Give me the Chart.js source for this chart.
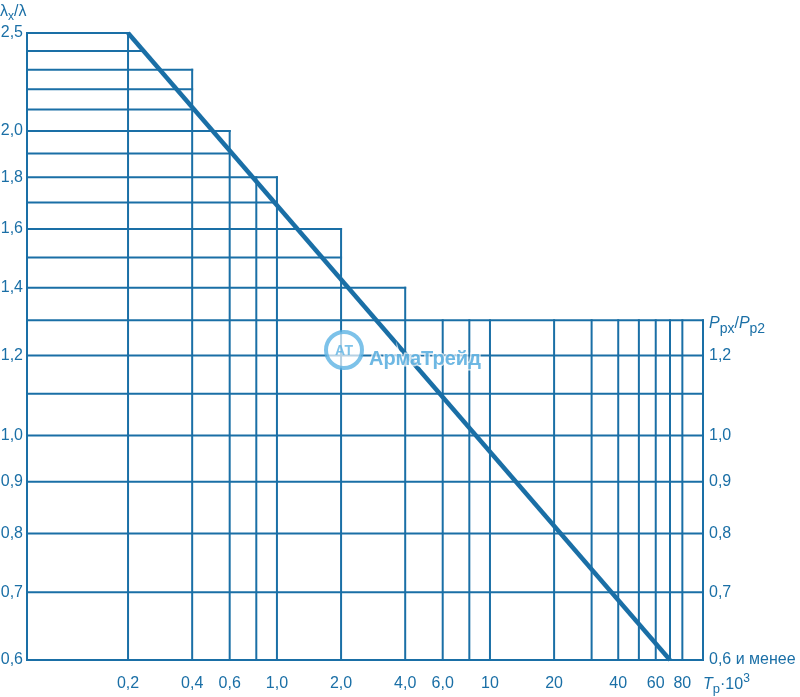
<!DOCTYPE html>
<html>
<head>
<meta charset="utf-8">
<script src="https://cdn.jsdelivr.net/npm/chart.js@4"></script>
<style>
html,body{margin:0;padding:0;background:#fff;}
#wrap{width:800px;height:697px;}
</style>
</head>
<body>
<div id="wrap"><canvas id="c" width="800" height="697"></canvas></div>
<script>
// ---- data ----
const xTickValues = [0.2, 0.4, 0.6, 1, 2, 4, 6, 10, 20, 40, 60, 80];
const yLeftTicks = [2.5, 2.0, 1.8, 1.6, 1.4, 1.2, 1.0, 0.9, 0.8, 0.7, 0.6];
const yRightTicks = [1.2, 1.0, 0.9, 0.8, 0.7, 0.6];
// horizontal grid levels (λx/λ) and the T value where each stops (null = stops at the diagonal)
const hLevels = [2.5, 2.4, 2.3, 2.2, 2.1, 2.0, 1.9, 1.8, 1.7, 1.6, 1.5, 1.4, 1.3, 1.2, 1.1, 1.0, 0.9, 0.8, 0.7];
const hEnds   = [0.2, null, 0.4, 0.4, 0.4, 0.6, 0.6, 1, 1, 2, 2, 4, 100, 100, 100, 100, 100, 100, 100];
// vertical grid levels (T·10^3) and the λ value where each starts at the top
const vLevels = [0.2, 0.4, 0.6, 0.8, 1, 2, 4, 6, 8, 10, 20, 30, 40, 50, 60, 70, 80, 100];
const vTops   = [2.5, 2.3, 2.0, 1.8, 1.8, 1.6, 1.4, 1.3, 1.3, 1.3, 1.3, 1.3, 1.3, 1.3, 1.3, 1.3, 1.3, 1.3];
// the characteristic line
const diagT = [0.2, 70];
const diagL = [2.5, 0.6];

const X_MIN = 0.0671, X_MAX = 100, Y_MIN = 0.6, Y_MAX = 2.5;
const BLUE = '#1a6fa6';
const FONT = '"Liberation Sans", Arial, sans-serif';

function diagAt(l) { // T on the diagonal for a given λ level (log-log straight line)
  const k = Math.log(diagL[1] / diagL[0]) / Math.log(diagT[1] / diagT[0]);
  return diagT[0] * Math.pow(l / diagL[0], 1 / k);
}
function comma(v, d) { return v.toFixed(d).replace('.', ','); }

const datasets = [];
hLevels.forEach((l, i) => {
  const end = hEnds[i] === null ? diagAt(l) : hEnds[i];
  datasets.push({ data: [{x: X_MIN, y: l}, {x: end, y: l}], borderWidth: 2, borderCapStyle: 'square' });
});
vLevels.forEach((t, i) => {
  datasets.push({ data: [{x: t, y: Y_MIN}, {x: t, y: vTops[i]}], borderWidth: 2, borderCapStyle: 'square' });
});
datasets.push({ data: diagT.map((t, i) => ({x: t, y: diagL[i]})), borderWidth: 4.5, borderCapStyle: 'butt' });
datasets.forEach(d => { d.borderColor = BLUE; d.pointRadius = 0; d.fill = false; d.clip = false; });

function drawSubText(ctx, x, y, parts) {
  // parts: [text, size, dy, italic]
  parts.forEach(p => {
    ctx.font = (p[3] ? 'italic ' : '') + p[1] + 'px ' + FONT;
    ctx.fillText(p[0], x, y + p[2]);
    x += ctx.measureText(p[0]).width;
  });
}

const extras = {
  id: 'extras',
  afterDraw(chart) {
    const ctx = chart.ctx;
    ctx.save();
    ctx.fillStyle = BLUE;
    ctx.textBaseline = 'alphabetic';
    ctx.textAlign = 'left';
    // left axis title λx/λ
    drawSubText(ctx, 0, 16, [['λ', 16, 0, false], ['x', 12, 4, false], ['/λ', 16, 0, false]]);
    // right axis title Ppx/Pp2
    drawSubText(ctx, 709, 328, [['P', 16, 0, true], ['px', 14, 5, false], ['/', 16, 0, false], ['P', 16, 0, true], ['p2', 14, 5, false]]);
    // x axis title Tp·10^3
    drawSubText(ctx, 703, 689, [['T', 16, 0, true], ['p', 13, 4, false], ['·10', 16, 0, false], ['3', 12, -7, false]]);

    // watermark АрмаТрейд
    ctx.globalAlpha = 0.8;
    ctx.beginPath();
    ctx.arc(344, 350, 18, 0, Math.PI * 2);
    ctx.fillStyle = 'rgba(255,255,255,0.85)';
    ctx.fill();
    ctx.lineWidth = 4;
    ctx.strokeStyle = '#5db3e4';
    ctx.stroke();
    ctx.fillStyle = '#5db3e4';
    ctx.font = 'bold 14px ' + FONT;
    ctx.textAlign = 'center';
    ctx.fillText('АТ', 344, 355);
    ctx.textAlign = 'left';
    ctx.font = 'bold 20px ' + FONT;
    ctx.lineWidth = 3;
    ctx.strokeStyle = 'rgba(255,255,255,0.9)';
    ctx.strokeText('АрмаТрейд', 369, 365);
    ctx.fillStyle = '#4aa6dc';
    ctx.fillText('АрмаТрейд', 369, 365);
    ctx.restore();
  }
};

new Chart(document.getElementById('c'), {
  type: 'line',
  data: { datasets },
  plugins: [extras],
  options: {
    responsive: false,
    animation: false,
    devicePixelRatio: 1,
    layout: { padding: { top: 33, left: 0, right: 0, bottom: 0 } },
    plugins: { legend: { display: false }, tooltip: { enabled: false } },
    scales: {
      x: {
        type: 'logarithmic', min: X_MIN, max: X_MAX,
        grid: { display: false, drawTicks: false },
        border: { display: true, color: BLUE, width: 2 },
        afterBuildTicks: s => { s.ticks = xTickValues.map(v => ({value: v})); },
        afterFit: s => { s.height = 37; },
        ticks: {
          autoSkip: false, maxRotation: 0, padding: 14, color: BLUE,
          font: { family: FONT, size: 16 },
          callback: v => v < 10 ? comma(v, 1) : String(v)
        }
      },
      y: {
        type: 'logarithmic', position: 'left', min: Y_MIN, max: Y_MAX,
        grid: { display: false, drawTicks: false },
        border: { display: true, color: BLUE, width: 2 },
        afterBuildTicks: s => { s.ticks = yLeftTicks.map(v => ({value: v})); },
        afterFit: s => { s.width = 27; },
        ticks: {
          autoSkip: false, padding: 4, color: BLUE,
          font: { family: FONT, size: 16 },
          callback: v => comma(v, 1)
        }
      },
      y2: {
        type: 'logarithmic', position: 'right', min: Y_MIN, max: Y_MAX,
        grid: { display: false, drawTicks: false },
        border: { display: false },
        afterBuildTicks: s => { s.ticks = yRightTicks.map(v => ({value: v})); },
        afterFit: s => { s.width = 97; },
        ticks: {
          autoSkip: false, padding: 6, color: BLUE,
          font: { family: FONT, size: 16 },
          callback: v => v === 0.6 ? '0,6 и менее' : comma(v, 1)
        }
      }
    }
  }
});
</script>
</body>
</html>
